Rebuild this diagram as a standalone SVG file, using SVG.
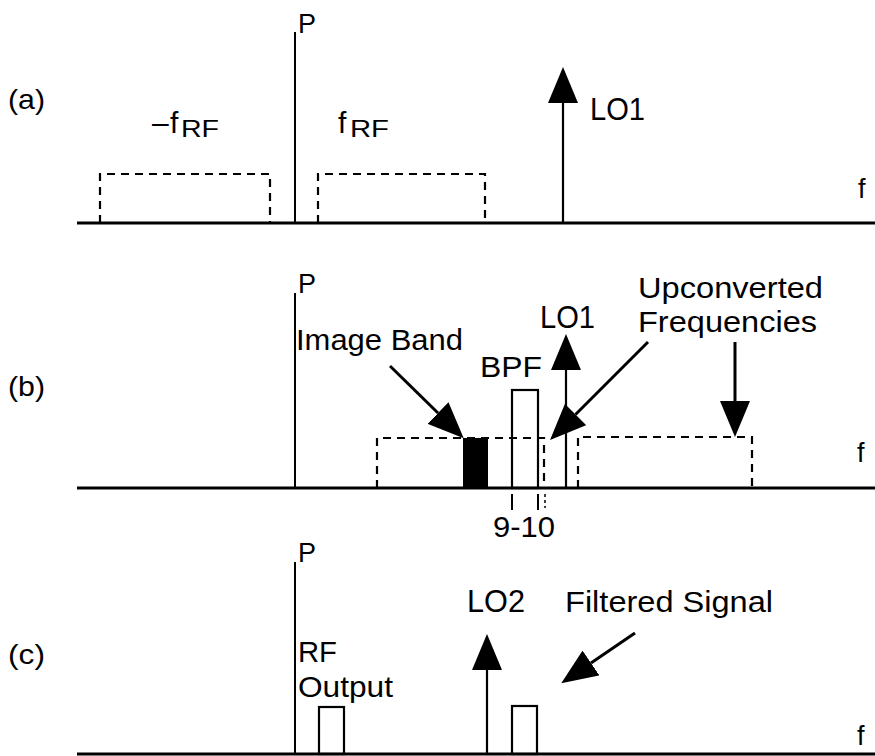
<svg xmlns="http://www.w3.org/2000/svg" width="875" height="756" viewBox="0 0 875 756">
<style>
.t{font-family:"Liberation Sans",Arial,sans-serif;fill:#000}
.ax{stroke:#000;stroke-width:3;fill:none}
.ln{stroke:#000;stroke-width:2;fill:none}
.ds{stroke:#000;stroke-width:2.2;fill:none;stroke-dasharray:8 6}
.bx{stroke:#000;stroke-width:2.2;fill:none}
.ar{stroke:#000;stroke-width:3;fill:none;marker-end:url(#ah)}
.lo{stroke:#000;stroke-width:2.2;fill:none;marker-end:url(#ah)}
</style>
<defs>
<marker id="ah" viewBox="0 0 36 30" refX="0" refY="15" markerWidth="36" markerHeight="30" markerUnits="userSpaceOnUse" orient="auto"><path d="M0,0 L36,15 L0,30 Z" fill="#000"/></marker>
</defs>
<rect width="875" height="756" fill="#fff"/>

<!-- Panel (a) -->
<g id="panel-a">
<text class="t" x="8" y="109" font-size="28" textLength="37" lengthAdjust="spacingAndGlyphs">(a)</text>
<line class="ax" x1="77" y1="223" x2="875" y2="223"/>
<g id="a-p-axis"><line class="ln" x1="295" y1="32" x2="295" y2="223"/><text class="t" x="298" y="33" font-size="27">P</text></g>
<g id="a-neg-frf"><path class="ds" d="M100,223 V174 H270 V223"/><text class="t" x="152" y="133" font-size="30">–<tspan x="170">f</tspan></text><text class="t" x="181" y="137" font-size="23" textLength="38" lengthAdjust="spacingAndGlyphs">RF</text></g>
<g id="a-frf"><path class="ds" d="M318,223 V174 H485 V223"/><text class="t" x="338" y="133" font-size="30">f</text><text class="t" x="350" y="137" font-size="23" textLength="39" lengthAdjust="spacingAndGlyphs">RF</text></g>
<g id="a-lo1"><text class="t" x="590" y="120" font-size="31" textLength="55" lengthAdjust="spacingAndGlyphs">LO1</text></g>
<text class="t" x="858" y="198" font-size="27">f</text>
</g>

<!-- Panel (b) -->
<g id="panel-b">
<text class="t" x="8" y="396" font-size="28" textLength="37" lengthAdjust="spacingAndGlyphs">(b)</text>
<line class="ax" x1="77" y1="488" x2="875" y2="488"/>
<g id="b-p-axis"><line class="ln" x1="295" y1="293" x2="295" y2="488"/><text class="t" x="298" y="293" font-size="27">P</text></g>
<g id="b-lower"><path class="ds" d="M377,488 V438 H544 V488"/></g>
<g id="b-image-band"><rect x="463" y="438" width="25" height="50" fill="#000"/><text class="t" x="296" y="350" font-size="30" textLength="167" lengthAdjust="spacingAndGlyphs">Image Band</text></g>
<g id="b-bpf"><rect class="bx" x="512" y="390" width="26" height="98"/><text class="t" x="480" y="377" font-size="30" textLength="62" lengthAdjust="spacingAndGlyphs">BPF</text></g>
<g id="b-upper"><path class="ds" d="M578,488 V437 H752 V488"/><text class="t" x="638" y="298" font-size="30" textLength="185" lengthAdjust="spacingAndGlyphs">Upconverted</text><text class="t" x="638" y="332" font-size="30" textLength="179" lengthAdjust="spacingAndGlyphs">Frequencies</text></g>
<g id="b-lo1"><text class="t" x="540" y="328" font-size="31" textLength="55" lengthAdjust="spacingAndGlyphs">LO1</text></g>
<g id="b-ticks"><line class="ln" x1="512" y1="494" x2="512" y2="510"/><line class="ln" x1="538" y1="494" x2="538" y2="510"/><line x1="545" y1="494" x2="545" y2="508" stroke="#000" stroke-width="1.5" stroke-dasharray="3 3"/><text class="t" x="493" y="537" font-size="30" textLength="62" lengthAdjust="spacingAndGlyphs">9-10</text></g>
<text class="t" x="857" y="462" font-size="27">f</text>
</g>

<!-- Panel (c) -->
<g id="panel-c">
<text class="t" x="8" y="664" font-size="28" textLength="37" lengthAdjust="spacingAndGlyphs">(c)</text>
<line class="ax" x1="77" y1="754" x2="875" y2="754"/>
<g id="c-p-axis"><line class="ln" x1="295" y1="562" x2="295" y2="754"/><text class="t" x="298" y="562" font-size="27">P</text></g>
<g id="c-rf-output"><rect class="bx" x="319" y="707" width="25" height="47"/><text class="t" x="298" y="662" font-size="30" textLength="39" lengthAdjust="spacingAndGlyphs">RF</text><text class="t" x="298" y="697" font-size="30" textLength="95" lengthAdjust="spacingAndGlyphs">Output</text></g>
<g id="c-lo2"><text class="t" x="467" y="612" font-size="31" textLength="58" lengthAdjust="spacingAndGlyphs">LO2</text></g>
<g id="c-filtered"><rect class="bx" x="512" y="706" width="25" height="48"/><text class="t" x="565" y="612" font-size="30" textLength="208" lengthAdjust="spacingAndGlyphs">Filtered Signal</text></g>
<text class="t" x="857" y="745" font-size="27">f</text>
</g>

<!-- Connectors / arrows -->
<g id="connectors">
<line class="lo" x1="563" y1="223" x2="563" y2="103"/>
<line class="lo" x1="566" y1="488" x2="566" y2="370"/>
<line class="lo" x1="487" y1="754" x2="487" y2="670"/>
<line class="ar" x1="390" y1="366" x2="438" y2="413"/>
<line class="ar" x1="648" y1="342" x2="575.5" y2="414.5"/>
<line class="ar" x1="735" y1="342" x2="735" y2="401"/>
<line class="ar" x1="635" y1="633" x2="591" y2="663"/>
</g>
</svg>
